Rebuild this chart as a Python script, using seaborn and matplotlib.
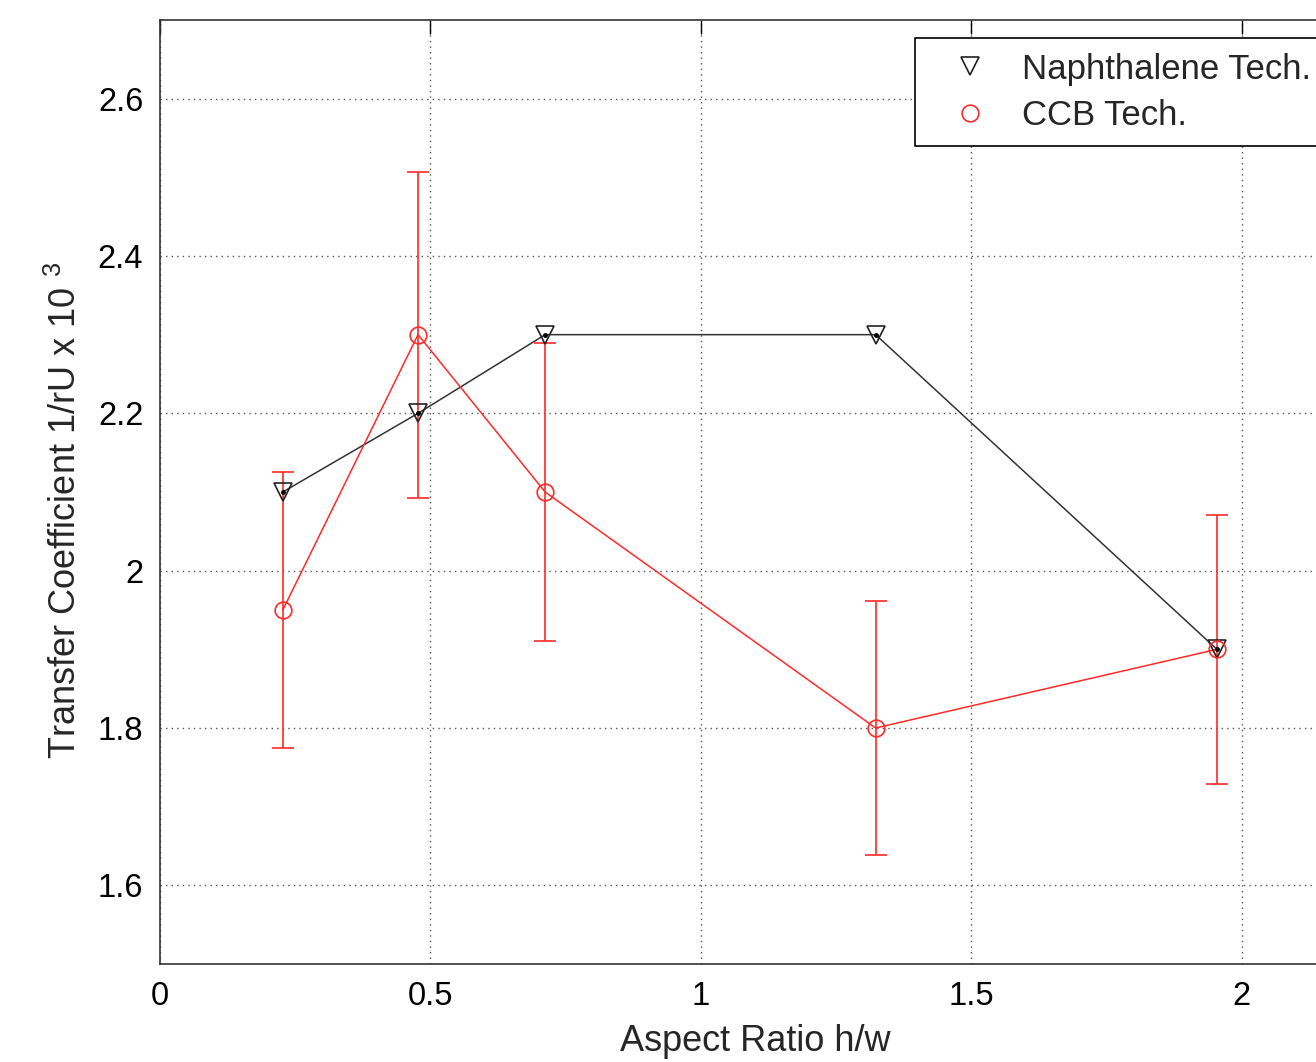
import matplotlib
matplotlib.use("Agg")
import matplotlib.pyplot as plt
import seaborn as sns
import pandas as pd

# Aspect ratio h/w and transfer coefficient values
aspect_ratio = [0.227, 0.477, 0.712, 1.323, 1.954]
naphthalene = [2.10, 2.20, 2.30, 2.30, 1.90]
ccb = [1.95, 2.30, 2.10, 1.80, 1.90]
ccb_err = [0.176, 0.207, 0.19, 0.162, 0.171]

sns.set_style("white")
plt.rcParams["font.family"] = ["Liberation Sans", "DejaVu Sans"]
plt.rcParams["mathtext.default"] = "regular"

df = pd.DataFrame({"h/w": aspect_ratio, "Naphthalene": naphthalene, "CCB": ccb})

W, H = 1316, 1062
fig = plt.figure(figsize=(W / 100, H / 100), dpi=100)
ax = fig.add_axes([160 / W, (H - 964) / H, 1190 / W, (964 - 20) / H])

red = "#ff2a2a"

# connecting lines
sns.lineplot(data=df, x="h/w", y="Naphthalene", color="#333333", lw=1.1, ax=ax,
             estimator=None, sort=False)
sns.lineplot(data=df, x="h/w", y="CCB", color=red, lw=1.1, ax=ax,
             estimator=None, sort=False)

ax.errorbar(aspect_ratio, ccb, yerr=ccb_err, fmt="none", ecolor=red,
            elinewidth=1.2, capsize=8, capthick=1.2, zorder=3)

# markers (these carry the legend entries)
ax.plot(aspect_ratio, naphthalene, linestyle="none", marker="v", ms=13,
        mfc="none", mec="#222222", mew=1.2, label="Naphthalene Tech.", zorder=4)
ax.plot(aspect_ratio, naphthalene, linestyle="none", marker=".", ms=5,
        color="black", zorder=5)
ax.plot(aspect_ratio, ccb, linestyle="none", marker="o", ms=12,
        mfc="none", mec=red, mew=1.2, label="CCB Tech.", zorder=4)

ax.set_xlim(0, 2.2)
ax.set_ylim(1.5, 2.7)
ax.set_xticks([0, 0.5, 1, 1.5, 2])
ax.set_xticklabels(["0", "0.5", "1", "1.5", "2"])
ax.set_yticks([1.6, 1.8, 2.0, 2.2, 2.4, 2.6])
ax.set_yticklabels(["1.6", "1.8", "2", "2.2", "2.4", "2.6"])

ax.grid(True, linestyle=(0, (1, 3)), color="#555555", lw=1.0)
ax.tick_params(direction="in", length=10, width=1, top=True, right=True,
               labelsize=23.5, pad=12, colors="black")
for s in ax.spines.values():
    s.set_color("#333333")
    s.set_linewidth(1.2)

ax.set_xlabel("Aspect Ratio h/w", fontsize=26, labelpad=9)
ax.set_ylabel("Transfer Coefficient 1/rU x 10 $^{3}$", fontsize=26)
ax.yaxis.set_label_coords(-0.064, 0.48)

leg = ax.legend(loc="upper left", bbox_to_anchor=(915 / W, 1 - 38 / H),
                bbox_transform=fig.transFigure, fontsize=25, frameon=True,
                fancybox=False, borderaxespad=0, handlelength=2.35,
                handletextpad=0.32, borderpad=0.42, labelspacing=0.38)
leg.get_frame().set_edgecolor("black")
leg.get_frame().set_linewidth(1.2)
leg.get_frame().set_alpha(1)

fig.savefig("out.png", dpi=100)
